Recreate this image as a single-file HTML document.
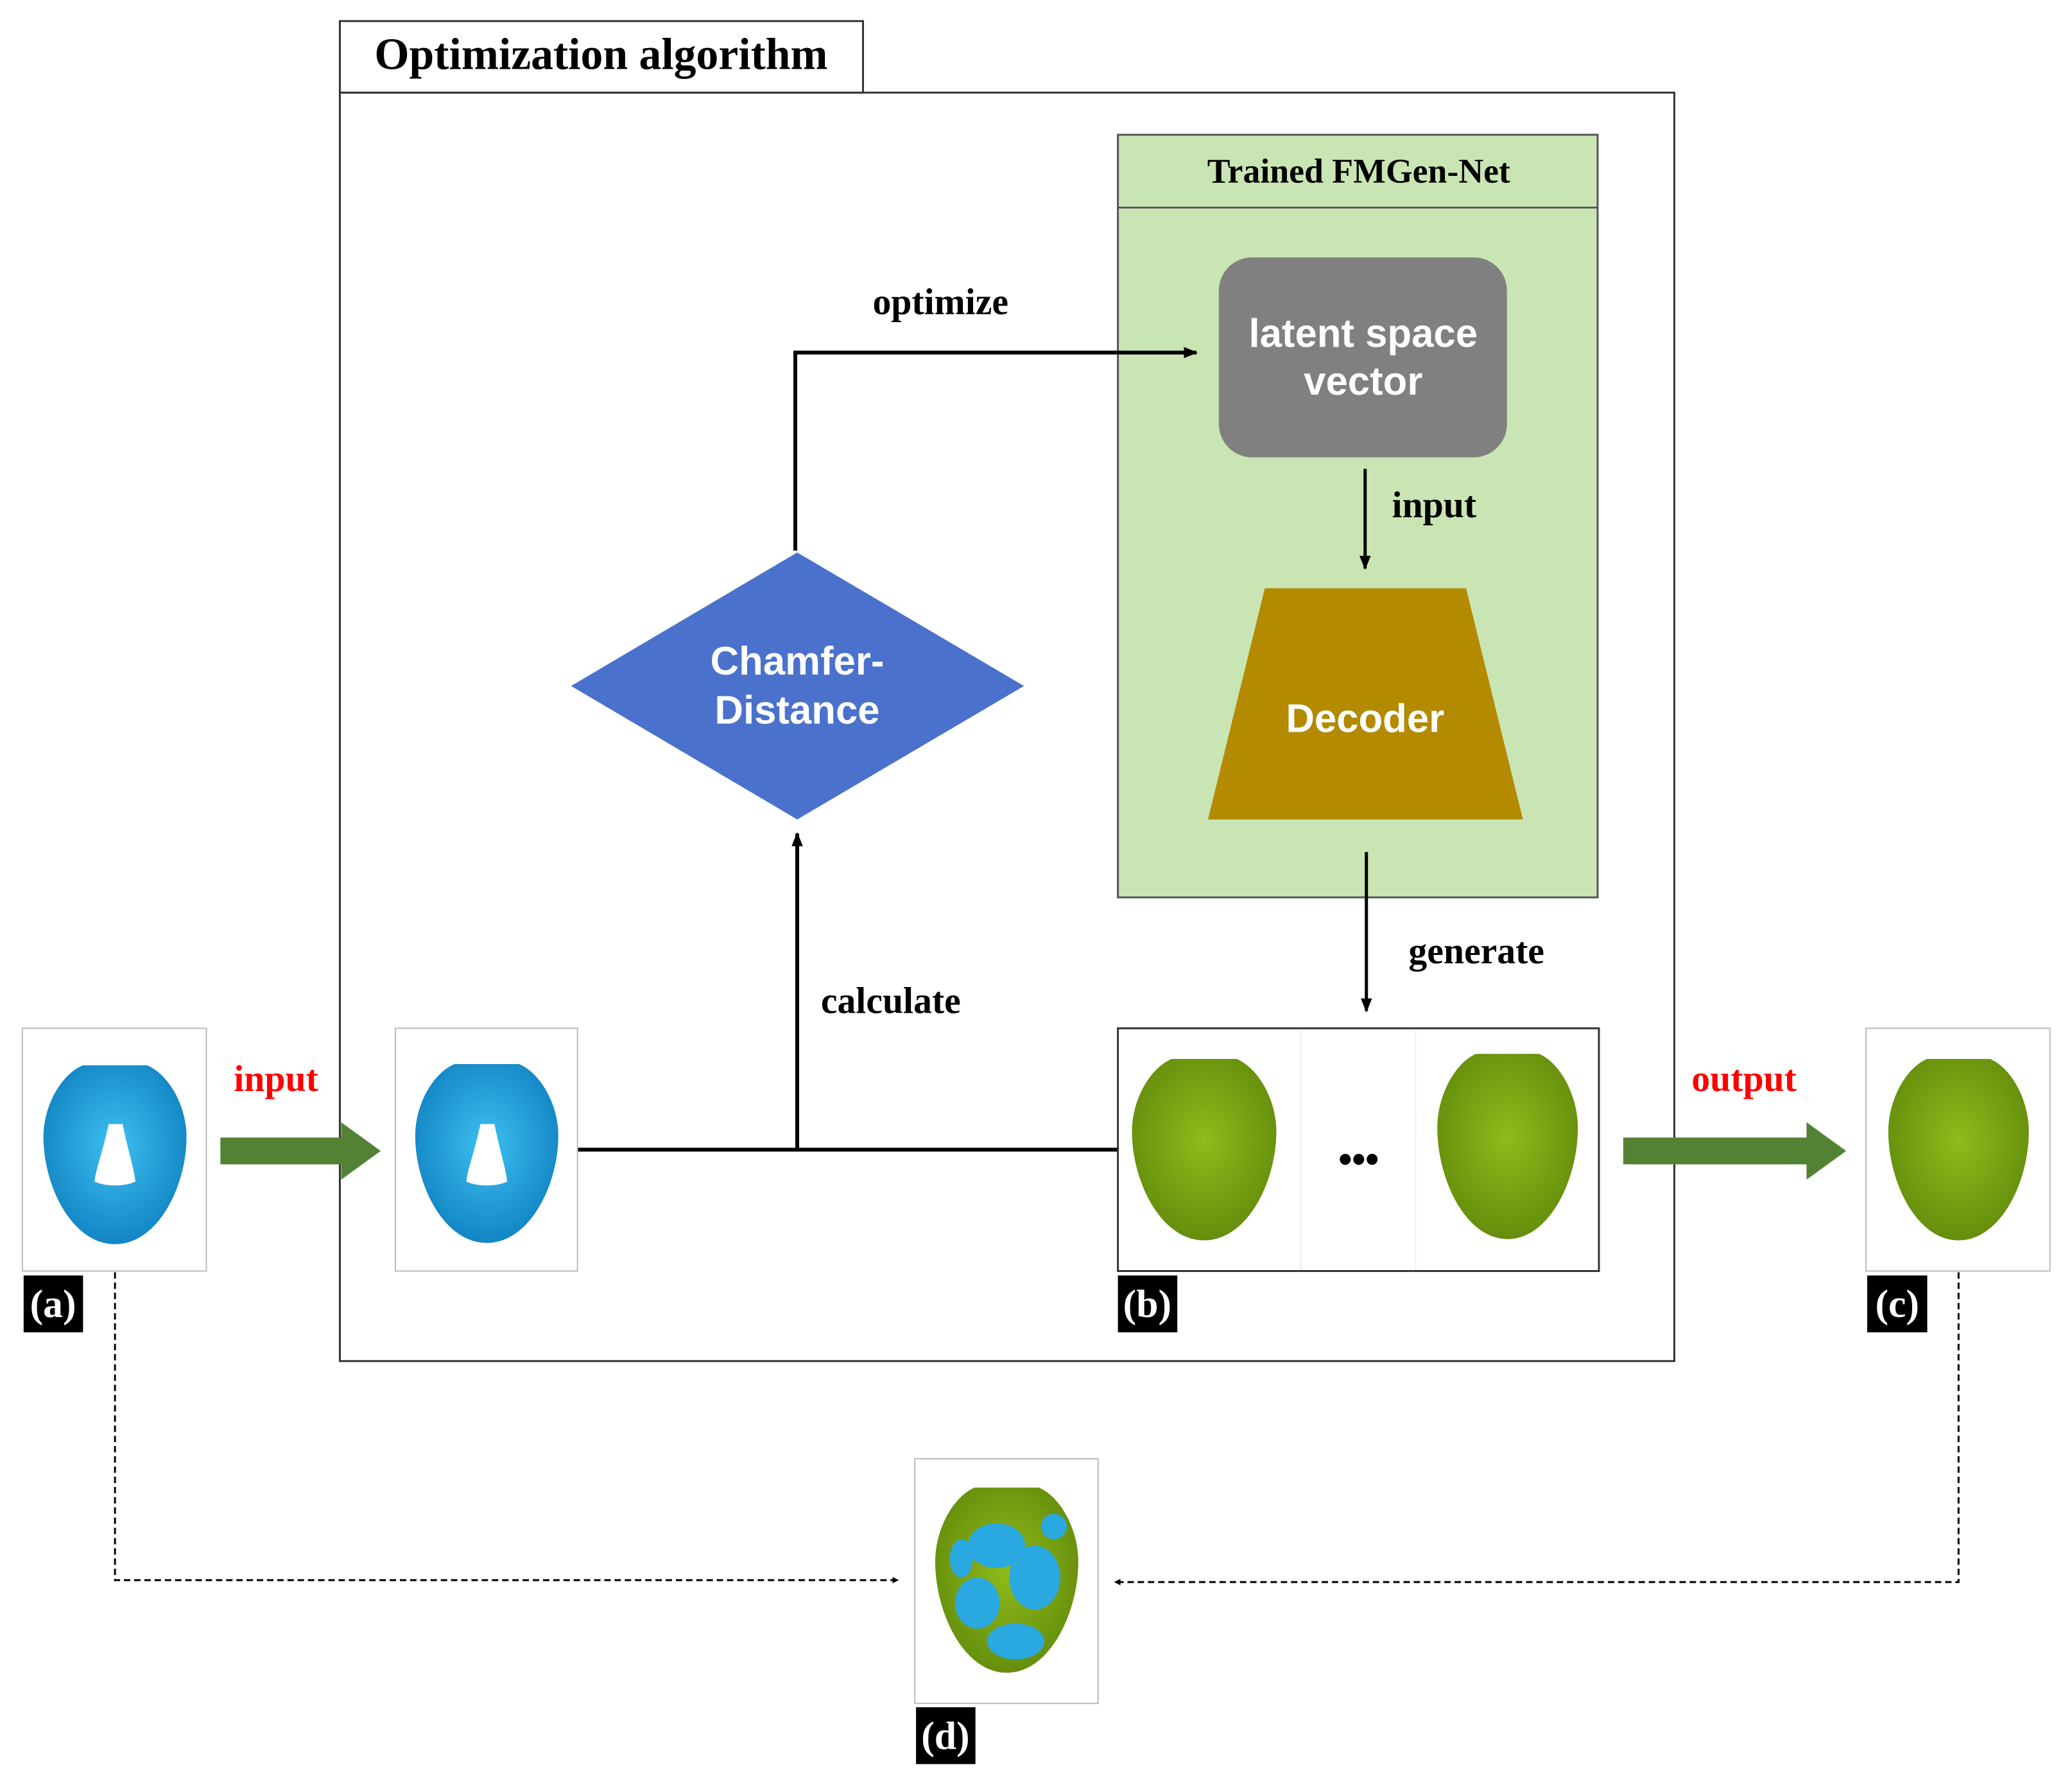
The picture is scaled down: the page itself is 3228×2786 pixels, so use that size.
<!DOCTYPE html>
<html><head><meta charset="utf-8"><style>
html,body{margin:0;padding:0;background:#fff}
svg{display:block}
.s{font-family:"Liberation Serif",serif;font-weight:bold}
.a{font-family:"Liberation Sans",sans-serif;font-weight:bold;fill:#fff}
.l{font-family:"Liberation Serif",serif;font-size:62px;font-weight:bold;fill:#fff}
</style></head><body>
<svg width="3228" height="2786" viewBox="0 0 3228 2786" xmlns="http://www.w3.org/2000/svg">
<defs>
<path id="face" d="M -0.45,-1 L 0.45,-1 C 0.75,-0.9 1,-0.55 1,-0.2 C 1,0.35 0.6,1 0,1 C -0.6,1 -1,0.35 -1,-0.2 C -1,-0.55 -0.75,-0.9 -0.45,-1 Z"/>
<radialGradient id="gb" cx="0.5" cy="0.45" r="0.6"><stop offset="0" stop-color="#3cc0f0"/><stop offset="1" stop-color="#0f80c0"/></radialGradient>
<radialGradient id="gg" cx="0.5" cy="0.45" r="0.6"><stop offset="0" stop-color="#8fbb1a"/><stop offset="1" stop-color="#628a0c"/></radialGradient>
<marker id="ar" markerWidth="10" markerHeight="10" refX="8" refY="5" orient="auto" markerUnits="userSpaceOnUse"><path d="M0,0 L10,5 L0,10 Z" fill="#000"/></marker>
<marker id="arb" viewBox="0 0 10 10" markerWidth="22" markerHeight="22" refX="9" refY="5" orient="auto" markerUnits="userSpaceOnUse"><path d="M0,1 L10,5 L0,9 Z" fill="#000"/></marker>
</defs>
<g transform="scale(0.9952)">
<rect x="532" y="145" width="2089" height="1986" fill="none" stroke="#333" stroke-width="3"/>
<rect x="532" y="33" width="819" height="112" fill="#fff" stroke="#333" stroke-width="3"/>
<text x="941" y="108" text-anchor="middle" class="s" style="font-size:70px">Optimization algorithm</text>

<rect x="1750" y="211" width="751" height="1194" fill="#c9e5b4" stroke="#555" stroke-width="3"/>
<line x1="1750" y1="325" x2="2501" y2="325" stroke="#555" stroke-width="3"/>
<text x="2127" y="286" text-anchor="middle" class="s" style="font-size:54px">Trained FMGen-Net</text>

<rect x="1908" y="403" width="451" height="313" rx="52" fill="#808080"/>
<text x="2134" y="543" text-anchor="middle" class="a" style="font-size:62px">latent space</text>
<text x="2134" y="618" text-anchor="middle" class="a" style="font-size:62px">vector</text>

<line x1="2137" y1="734" x2="2137" y2="890" stroke="#000" stroke-width="5" marker-end="url(#arb)"/>
<text x="2179" y="810" class="s" style="font-size:58px">input</text>

<polygon points="1980,921 2295,921 2384,1283 1891,1283" fill="#b38a00"/>
<text x="2137" y="1146" text-anchor="middle" class="a" style="font-size:62px">Decoder</text>

<line x1="2139" y1="1334" x2="2139" y2="1583" stroke="#000" stroke-width="5" marker-end="url(#arb)"/>
<text x="2205" y="1508" class="s" style="font-size:58px">generate</text>

<polygon points="1248,865 1603,1074 1248,1283 894,1074" fill="#4a72cc"/>
<text x="1248" y="1056" text-anchor="middle" class="a" style="font-size:62px">Chamfer-</text>
<text x="1248" y="1133" text-anchor="middle" class="a" style="font-size:62px">Distance</text>

<polyline points="1245,862 1245,552 1873,552" fill="none" stroke="#000" stroke-width="6" marker-end="url(#arb)"/>
<text x="1366" y="492" class="s" style="font-size:58px">optimize</text>

<line x1="1248" y1="1800" x2="1248" y2="1305" stroke="#000" stroke-width="6" marker-end="url(#arb)"/>
<text x="1285" y="1586" class="s" style="font-size:58px">calculate</text>
<line x1="904" y1="1800" x2="1750" y2="1800" stroke="#000" stroke-width="6"/>

<rect x="35" y="1610" width="288" height="380" fill="#fff" stroke="#bbb" stroke-width="2"/>
<rect x="619" y="1610" width="285" height="380" fill="#fff" stroke="#bbb" stroke-width="2"/>
<rect x="1750" y="1610" width="753" height="380" fill="#fff" stroke="#333" stroke-width="3"/>
<line x1="2036" y1="1612" x2="2036" y2="1988" stroke="#eee" stroke-width="2"/>
<line x1="2216" y1="1612" x2="2216" y2="1988" stroke="#eee" stroke-width="2"/>
<rect x="2921" y="1610" width="288" height="380" fill="#fff" stroke="#bbb" stroke-width="2"/>
<rect x="1432" y="2284" width="287" height="383" fill="#fff" stroke="#bbb" stroke-width="2"/>

<use href="#face" transform="translate(180,1808) scale(112,140)" fill="url(#gb)"/>
<path d="M170,1760 L192,1760 C200,1800 210,1830 212,1850 C195,1858 165,1858 148,1850 C150,1830 162,1800 170,1760 Z" fill="#fff"/>
<use href="#face" transform="translate(762,1806) scale(112,140)" fill="url(#gb)"/>
<path d="M752,1760 L774,1760 C782,1800 792,1830 794,1850 C777,1858 747,1858 730,1850 C732,1830 744,1800 752,1760 Z" fill="#fff"/>
<use href="#face" transform="translate(1885,1800) scale(113,142)" fill="url(#gg)"/>
<use href="#face" transform="translate(2360,1795) scale(110,145)" fill="url(#gg)"/>
<use href="#face" transform="translate(3066,1800) scale(110,142)" fill="url(#gg)"/>
<use href="#face" transform="translate(1576,2474) scale(112,145)" fill="url(#gg)"/>
<ellipse cx="1560" cy="2420" rx="45" ry="35" fill="#2aa8e0"/>
<ellipse cx="1620" cy="2470" rx="40" ry="50" fill="#2aa8e0"/>
<ellipse cx="1530" cy="2510" rx="35" ry="40" fill="#2aa8e0"/>
<ellipse cx="1590" cy="2570" rx="45" ry="28" fill="#2aa8e0"/>
<ellipse cx="1505" cy="2440" rx="18" ry="30" fill="#2aa8e0"/>
<ellipse cx="1650" cy="2390" rx="20" ry="20" fill="#2aa8e0"/>
<text x="2127" y="1835" text-anchor="middle" style="font-family:'Liberation Sans',sans-serif;font-size:60px;font-weight:bold">•••</text>

<rect x="37" y="1997" width="93" height="89" fill="#000"/>
<text x="83" y="2062" text-anchor="middle" class="l">(a)</text>
<rect x="1750" y="1997" width="93" height="89" fill="#000"/>
<text x="1796" y="2062" text-anchor="middle" class="l">(b)</text>
<rect x="2923" y="1997" width="94" height="89" fill="#000"/>
<text x="2970" y="2062" text-anchor="middle" class="l">(c)</text>
<rect x="1434" y="2673" width="93" height="89" fill="#000"/>
<text x="1480" y="2738" text-anchor="middle" class="l">(d)</text>

<polygon points="345,1781 534,1781 534,1757 596,1802 534,1847 534,1823 345,1823" fill="#548235"/>
<text x="366" y="1708" class="s" style="font-size:58px;fill:#ff0000">input</text>
<polygon points="2541,1781 2828,1781 2828,1757 2890,1802 2828,1847 2828,1823 2541,1823" fill="#548235"/>
<text x="2648" y="1708" class="s" style="font-size:58px;fill:#ff0000">output</text>

<polyline points="180,1992 180,2474 1405,2474" fill="none" stroke="#000" stroke-width="3" stroke-dasharray="10,6" marker-end="url(#ar)"/>
<polyline points="3066,1992 3066,2477 1746,2477" fill="none" stroke="#000" stroke-width="3" stroke-dasharray="10,6" marker-end="url(#ar)"/>
</g>
</svg>
</body></html>
